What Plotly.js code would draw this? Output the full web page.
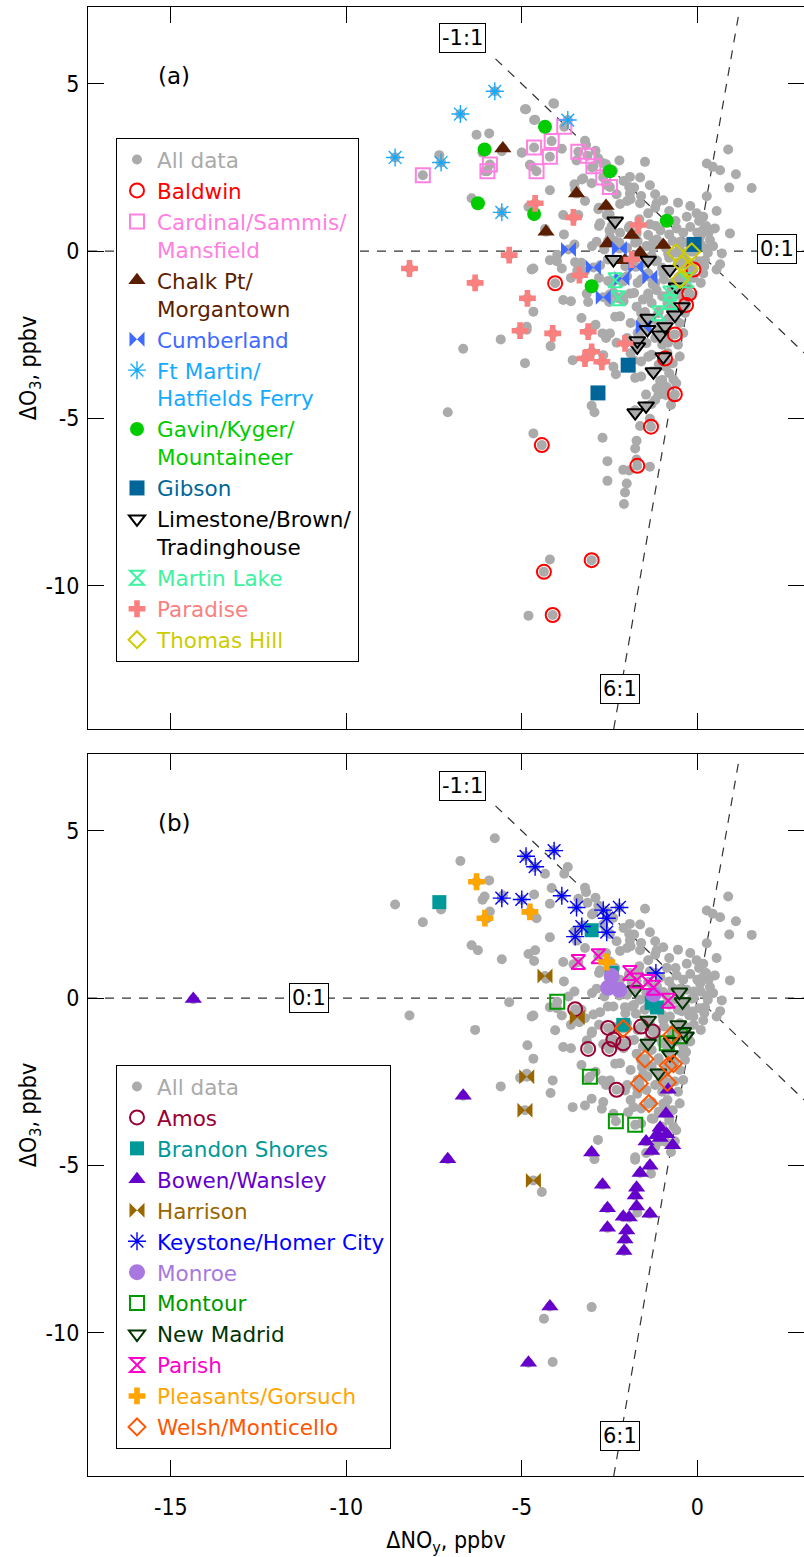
<!DOCTYPE html>
<html>
<head>
<meta charset="utf-8">
<script src="https://cdn.plot.ly/plotly-3.0.1.min.js"></script>
<style>html,body{margin:0;padding:0;background:#fff;}#chart{width:804px;height:1557px;}</style>
</head>
<body>
<div id="chart"></div>
<script>
// ---------- Panel (a) plants ----------
const baldwinX = [-4.05,-4.43,-4.37,-4.12,-3.01,-1.71,-1.32,-0.64,-0.64,-0.92,-0.11,-0.23,-0.32];
const baldwinY = [-0.96,-5.80,-9.59,-10.88,-9.24,-6.42,-5.25,-4.28,-2.49,-3.21,-0.55,-1.27,-1.61];
const cardinalX = [-7.82,-5.91,-5.98,-4.65,-4.58,-3.79,-4.15,-4.20,-3.39,-3.13,-2.96,-2.68,-2.49];
const cardinalY = [2.27,2.59,2.39,3.10,2.39,3.72,3.29,2.82,2.97,2.85,2.54,2.20,1.92];
const chalkX = [-5.54,-3.44,-2.60,-4.31,-1.87,-2.56,-2.06,-1.63,-0.97];
const chalkY = [3.07,1.72,1.35,0.58,0.48,0.23,-0.27,-0.05,0.18];
const cumberlandX = [-3.67,-2.96,-2.68,-2.22,-2.15,-1.75,-1.35,-1.54];
const cumberlandY = [0.05,-0.49,-1.38,0.08,-0.82,-0.47,-0.77,-2.26];
const ftMartinX = [-5.77,-6.75,-8.61,-7.30,-5.57,-3.69];
const ftMartinY = [4.78,4.10,2.80,2.65,1.16,3.92];
const gavinX = [-6.06,-6.25,-4.65,-4.34,-2.49,-0.87,-3.01];
const gavinY = [3.04,1.43,1.11,3.72,2.39,0.91,-1.05];
const gibsonX = [-0.09,-1.97,-2.83];
const gibsonY = [0.20,-3.41,-4.24];
const limestoneX = [-2.34,-2.39,-1.40,-0.78,-0.59,-0.44,-0.64,-1.40,-0.92,-1.42,-1.71,-1.71,-1.06,-0.97,-1.25,-1.46,-1.77];
const limestoneY = [0.90,-0.25,-0.27,-0.55,-1.07,-1.66,-1.91,-2.01,-2.26,-2.34,-2.68,-2.86,-2.51,-3.16,-3.61,-4.63,-4.83];
const martinLakeX = [-2.34,-2.25,-0.78,-0.78,-1.11,-0.30];
const martinLakeY = [-0.87,-1.41,-1.27,-1.52,-1.86,-0.87];
const paradiseX = [-8.20,-6.33,-5.36,-4.84,-4.62,-5.05,-3.53,-1.68,-1.87,-3.36,-4.12,-3.11,-3.01,-3.20,-2.72,-2.06];
const paradiseY = [-0.52,-0.95,-0.12,-1.41,1.43,-2.38,1.01,0.78,-0.25,-0.72,-2.46,-2.41,-3.01,-3.21,-3.31,-2.76];
const thomasX = [-0.61,-0.16,-0.44,-0.23,-0.49];
const thomasY = [-0.05,-0.02,-0.39,-0.52,-0.85];

// ---------- Panel (b) plants ----------
const amosX = [-3.48,-2.54,-2.39,-3.11,-2.51,-2.11,-1.60,-1.27,-2.30];
const amosY = [-0.33,-0.89,-1.24,-1.52,-1.52,-1.35,-0.85,-1.00,-2.74];
const brandonX = [-7.35,-3.01,-2.44,-1.30,-1.15,-2.11];
const brandonY = [2.87,2.03,0.75,-0.14,-0.28,-0.80];
const bowenX = [-14.36,-6.67,-7.11,-3.01,-2.70,-2.56,-2.56,-4.20,-4.81,-1.63,-1.73,-1.77,-1.73,-2.11,-1.94,-2.01,-2.06,-2.09,-1.35,-1.35,-1.46,-1.30,-1.06,-1.06,-0.89,-0.87,-0.70,-0.83,-1.16];
const bowenY = [-0.03,-2.92,-4.82,-4.62,-5.58,-6.28,-6.87,-9.22,-10.90,-5.23,-5.67,-5.90,-6.23,-6.54,-6.56,-6.95,-7.22,-7.56,-6.45,-5.01,-4.29,-4.57,-3.88,-4.18,-3.46,-4.07,-4.40,-2.74,-4.10];
const harrisonX = [-4.34,-3.42,-4.86,-4.91,-4.67];
const harrisonY = [0.66,-0.58,-2.35,-3.35,-5.45];
const keystoneX = [-4.88,-4.08,-4.62,-5.57,-5.00,-3.86,-3.44,-2.68,-2.22,-2.58,-3.29,-3.48,-2.58,-1.18];
const keystoneY = [4.24,4.41,3.93,2.99,2.95,3.06,2.71,2.63,2.71,2.39,2.14,1.84,1.97,0.75];
const monroeX = [-2.44,-2.54,-2.22,-1.25];
const monroeY = [0.66,0.31,0.25,0.11];
const montourX = [-3.99,-3.06,-2.32,-1.77,-0.87,-0.49];
const montourY = [-0.11,-2.35,-3.68,-3.79,-1.35,-1.14];
const newMadridX = [-1.77,-1.40,-1.40,-1.11,-0.78,-0.73,-0.54,-0.40,-0.32,-0.51,-0.42];
const newMadridY = [0.25,-0.66,-1.35,-2.24,-1.69,-1.30,-0.80,-1.00,-1.13,0.18,-0.11];
const parishX = [-3.39,-2.82,-1.92,-1.73,-1.40,-1.25,-0.83];
const parishY = [1.08,1.25,0.75,0.53,0.48,0.31,-0.08];
const pleasantsX = [-6.29,-6.05,-4.77,-2.58];
const pleasantsY = [3.48,2.39,2.58,1.08];
const welshX = [-2.11,-1.49,-1.65,-1.38,-0.73,-0.83,-0.68,-0.85];
const welshY = [-0.91,-1.82,-2.55,-3.15,-1.11,-2.02,-1.96,-2.52];

// ---------- other "All data" points (not at a plant marker) ----------
const otherX = [-4.91,-4.65,-5.93,-5.00,-4.72,-6.43,-4.72,-4.81,-4.86,-6.12,
 -4.10,-3.17,-2.82,-1.49,-1.92,-1.63,-1.35,-1.94,-3.25,-4.20,
 0.88,0.27,0.44,0.65,1.10,0.91,1.55,0.27,0.50,0.93,0.70,0.65,0.22,0.55,0.55,
 -3.82,-2.77,-2.20,-1.92,-1.63,-1.16,-0.97,-1.40,-0.59,-0.30,-0.02,0.17,-0.49,0.08,0.36,0.27,0.17,
 -4.67,-4.20,-3.86,-2.87,-2.49,-2.77,-3.15,-2.34,-1.92,-1.73,-1.40,-1.16,-0.97,-4.67,-3.82,-1.58,
 -5.60,-4.18,-3.55,-2.93,-2.68,-2.39,-1.40,-0.68,-1.11,-0.97,-2.70,-2.49,-1.82,-1.77,
 -3.2,-2.9,-2.6,-2.4,-2.1,-1.8,-1.2,-3.0,-2.6,-2.3,-2.0,-3.5,-3.2,-2.8,-2.5,-3.8,-3.5,-4.0,-3.6,-3.2,-3.0,-3.6,-3.3,-2.9,-2.6,
 -1.9,-1.6,-1.2,-0.8,-0.55,-0.2,0.05,0.25,
 -2.8,-2.5,-2.2,-1.95,-1.65,-1.35,-1.05,-0.8,-0.62,-0.4,-0.2,0.0,0.15,0.32,
 -3.0,-2.65,-2.35,-2.0,-1.7,-1.45,-1.15,-0.9,-0.7,-0.5,-0.3,-0.1,0.1,0.3,0.45,
 -3.3,-2.55,-2.05,-1.8,-1.5,-1.2,-1.0,-0.8,-0.55,-0.35,-0.15,0.05,0.2,
 -2.8,-2.45,-2.0,-1.7,-1.45,-1.2,-0.95,-0.7,-0.5,-0.3,-0.1,0.1,
 -2.5,-2.1,-1.8,-1.55,-1.3,-1.0,-0.85,-0.6,-0.4,-0.2,
 -2.2,-1.9,-1.6,-1.3,-1.1,-0.9,-0.75,-0.5,-0.35,
 -2.0,-1.7,-1.45,-1.2,-1.0,-0.8,-0.55,-0.4,
 -1.9,-1.6,-1.3,-1.1,-0.85,-0.7,-0.5,
 -1.6,-1.3,-1.0,-0.8,-0.6,
 -1.2,-0.9,-0.75];
const otherY = [4.24,3.92,3.52,2.94,2.54,1.58,-0.55,1.32,-2.26,2.94,
 4.42,3.17,2.77,2.67,2.22,2.20,1.97,1.92,2.17,1.82,
 3.04,2.62,2.52,2.42,2.30,1.90,1.89,1.64,0.68,0.53,-0.07,-0.39,-0.27,1.20,-0.55,
 1.08,0.83,1.41,1.72,1.43,1.43,1.52,1.13,0.68,1.03,1.13,1.03,0.28,0.43,0.33,0.08,-0.67,
 -0.52,-0.27,-0.52,0.28,0.43,-0.42,-1.27,-1.96,-1.27,-1.66,-1.27,-1.17,-0.67,-1.81,-1.46,-2.06,
 -2.64,-2.84,-3.26,-4.82,-3.11,-3.46,-3.16,-3.84,-4.30,-4.00,-2.46,-2.46,-3.26,-4.76,
 3.3,3.0,2.6,2.4,2.1,1.9,1.7,2.5,2.0,1.7,1.5,2.0,1.5,1.3,1.1,0.5,0.2,-0.3,-0.8,-0.6,-1.0,-1.5,-2.0,-2.2,-2.6,
 1.55,1.65,1.3,1.2,1.45,1.35,0.9,0.75,
 0.75,0.62,0.55,0.7,0.95,0.8,0.62,0.5,0.9,0.55,0.72,0.55,0.62,0.55,
 0.15,0.05,0.3,0.1,0.3,0.15,0.35,0.1,0.3,0.05,0.25,0.0,0.2,-0.05,0.15,
 -0.35,-0.25,-0.45,-0.2,-0.35,-0.3,-0.5,-0.2,-0.35,-0.25,-0.4,-0.3,-0.45,
 -0.8,-0.95,-0.75,-0.95,-0.7,-0.95,-0.85,-0.95,-0.75,-0.9,-0.8,-0.95,
 -1.3,-1.5,-1.25,-1.45,-1.55,-1.35,-1.55,-1.3,-1.45,-1.3,
 -1.95,-2.15,-1.85,-2.05,-1.8,-2.1,-1.95,-2.15,-1.85,
 -2.6,-2.45,-2.75,-2.6,-2.8,-2.55,-2.8,-2.45,
 -3.05,-3.3,-3.1,-3.4,-3.05,-3.35,-3.15,
 -3.75,-3.6,-3.85,-3.65,-3.95,
 -4.45,-4.3,-4.6];

// tick labels
const xTickVals = [-15, -10, -5, 0];
const xTickText = ['-15', '-10', '-5', '0'];
const yTickVals = [-10, -5, 0, 5];
const yTickText = ['-10', '-5', '0', '5'];

const allX = otherX.concat(baldwinX, cardinalX, chalkX, cumberlandX, ftMartinX, gavinX, gibsonX,
  limestoneX, martinLakeX, paradiseX, thomasX, amosX, brandonX, bowenX, harrisonX, keystoneX,
  monroeX, montourX, newMadridX, parishX, pleasantsX, welshX);
const allY = otherY.concat(baldwinY, cardinalY, chalkY, cumberlandY, ftMartinY, gavinY, gibsonY,
  limestoneY, martinLakeY, paradiseY, thomasY, amosY, brandonY, bowenY, harrisonY, keystoneY,
  monroeY, montourY, newMadridY, parishY, pleasantsY, welshY);

const GRAY = '#ABABAB';
function label(t, c, suffix){ return '<span style="color:' + c + (suffix || '') + '">' + t + '</span>'; }
function series(name, color, symbol, xs, ys, panel, size, open, lw){
  const b = panel === 'b';
  return {
    type: 'scatter', mode: 'markers', x: xs, y: ys,
    xaxis: b ? 'x2' : 'x', yaxis: b ? 'y2' : 'y',
    legend: b ? 'legend2' : 'legend',
    name: label(name, color, b ? ';' : ''), showlegend: true, hoverinfo: 'skip',
    marker: { symbol: symbol, size: size, color: color,
      line: { color: color, width: open ? (lw || 2) : 0 } }
  };
}

const traces = [
  series('All data', '#AAAAAA', 'circle', allX, allY, 'a', 10, false),
  series('Baldwin', '#FF0000', 'circle-open', baldwinX, baldwinY, 'a', 14, true),
  series('Cardinal/Sammis/<br>Mansfield', '#FF80E0', 'square-open', cardinalX, cardinalY, 'a', 14, true),
  series('Chalk Pt/<br>Morgantown', '#5C1E00', 'triangle-up', chalkX, chalkY, 'a', 15, false),
  series('Cumberland', '#3F6AFF', 'bowtie', cumberlandX, cumberlandY, 'a', 15, false),
  series('Ft Martin/<br>Hatfields Ferry', '#14AAFF', 'asterisk-open', ftMartinX, ftMartinY, 'a', 15, true, 1.4),
  series('Gavin/Kyger/<br>Mountaineer', '#00CC00', 'circle', gavinX, gavinY, 'a', 14, false),
  series('Gibson', '#006699', 'square', gibsonX, gibsonY, 'a', 15, false),
  series('Limestone/Brown/<br>Tradinghouse', '#000000', 'triangle-down-open', limestoneX, limestoneY, 'a', 14, true),
  series('Martin Lake', '#3DF2A0', 'hourglass-open', martinLakeX, martinLakeY, 'a', 14, true),
  series('Paradise', '#FA7F7F', 'cross', paradiseX, paradiseY, 'a', 14, false),
  series('Thomas Hill', '#CCCC00', 'diamond-open', thomasX, thomasY, 'a', 13, true),

  series('All data', '#AAAAAA', 'circle', allX, allY, 'b', 10, false),
  series('Amos', '#990033', 'circle-open', amosX, amosY, 'b', 14, true),
  series('Brandon Shores', '#009999', 'square', brandonX, brandonY, 'b', 14, false),
  series('Bowen/Wansley', '#6600CC', 'triangle-up', bowenX, bowenY, 'b', 15, false),
  series('Harrison', '#996600', 'bowtie', harrisonX, harrisonY, 'b', 15, false),
  series('Keystone/Homer City', '#0000FF', 'asterisk-open', keystoneX, keystoneY, 'b', 15, true, 1.4),
  series('Monroe', '#A878E0', 'circle', monroeX, monroeY, 'b', 16, false),
  series('Montour', '#009900', 'square-open', montourX, montourY, 'b', 14, true),
  series('New Madrid', '#003300', 'triangle-down-open', newMadridX, newMadridY, 'b', 14, true),
  series('Parish', '#FF00CC', 'hourglass-open', parishX, parishY, 'b', 14, true),
  series('Pleasants/Gorsuch', '#FFA500', 'cross', pleasantsX, pleasantsY, 'b', 14, false),
  series('Welsh/Monticello', '#FF5500', 'diamond-open', welshX, welshY, 'b', 13, true)
];
traces[0].marker.color = GRAY; traces[12].marker.color = GRAY;

const XR = [-17.36, 3.04], YR = [-14.29, 7.30];
const tickFont = { family: 'DejaVu Sans Condensed, Liberation Sans Narrow, DejaVu Sans, sans-serif', size: 23, color: '#000' };
function xax(show){
  return { range: XR, tickmode: 'array', tickvals: xTickVals, ticktext: xTickText,
    ticks: 'inside', ticklen: 16, tickwidth: 1, tickcolor: '#000',
    showline: true, linecolor: '#000', linewidth: 1, mirror: 'ticks', showgrid: false, zeroline: false,
    showticklabels: show, tickfont: tickFont, ticklabelstandoff: 10, fixedrange: true };
}
function yax(dom){
  return { range: YR, tickmode: 'array', tickvals: yTickVals, ticktext: yTickText,
    ticks: 'inside', ticklen: 16, tickwidth: 1, tickcolor: '#000',
    showline: true, linecolor: '#000', linewidth: 1, mirror: 'ticks', showgrid: false, zeroline: false,
    domain: dom, tickfont: tickFont, ticklabelstandoff: 3,
    title: { text: 'ΔO<sub>3</sub>, ppbv', font: tickFont, standoff: 2 }, fixedrange: true };
}
const xa = xax(false); xa.anchor = 'y';
const xb = xax(true); xb.anchor = 'y2';
xb.title = { text: 'ΔNO<sub>y</sub>, ppbv', font: tickFont, standoff: 14 };
const ya = yax([0.5085, 1]); ya.anchor = 'x';
const yb = yax([0, 0.4915]); yb.anchor = 'x2';

const dashStyle = { color: '#333', width: 1.2, dash: '9px,8px' };
const shapes = [];
[['x','y'],['x2','y2']].forEach(([xr, yr]) => {
  shapes.push({ type: 'line', xref: xr, yref: yr, x0: XR[0], x1: XR[1], y0: 0, y1: 0, line: dashStyle, layer: 'below' });
  shapes.push({ type: 'line', xref: xr, yref: yr, x0: -5.75, y0: 5.75, x1: XR[1], y1: -XR[1], line: dashStyle, layer: 'below' });
  shapes.push({ type: 'line', xref: xr, yref: yr, x0: YR[0] / 6, y0: YR[0], x1: 7.05 / 6, y1: 7.05, line: dashStyle, layer: 'below' });
});

const lblFont = { family: 'DejaVu Sans, sans-serif', size: 21, color: '#000' };
function boxLabel(t, x, y, xr, yr){
  return { text: t, x: x, y: y, xref: xr, yref: yr, showarrow: false, font: lblFont,
    bordercolor: '#000', borderwidth: 1, borderpad: 2, bgcolor: '#fff' };
}
const annotations = [
  { text: '(a)', x: -14.9, y: 5.25, xref: 'x', yref: 'y', showarrow: false, font: { family: 'DejaVu Sans, sans-serif', size: 23, color: '#000' } },
  { text: '(b)', x: -14.9, y: 5.25, xref: 'x2', yref: 'y2', showarrow: false, font: { family: 'DejaVu Sans, sans-serif', size: 23, color: '#000' } },
  boxLabel('-1:1', -6.7, 6.36, 'x', 'y'),
  boxLabel('0:1', 2.26, 0.05, 'x', 'y'),
  boxLabel('6:1', -2.2, -13.1, 'x', 'y'),
  boxLabel('-1:1', -6.7, 6.34, 'x2', 'y2'),
  boxLabel('0:1', -11.05, 0, 'x2', 'y2'),
  boxLabel('6:1', -2.2, -13.1, 'x2', 'y2')
];

const legFont = { family: 'DejaVu Sans, sans-serif', size: 21.5, color: '#000' };
const layout = {
  width: 804, height: 1557,
  margin: { l: 88, r: 0, t: 7, b: 81 },
  paper_bgcolor: '#fff', plot_bgcolor: '#fff',
  xaxis: xa, yaxis: ya, xaxis2: xb, yaxis2: yb,
  shapes: shapes, annotations: annotations,
  legend: { x: 0.0391, y: 0.9108, xanchor: 'left', yanchor: 'top', bgcolor: '#fff', bordercolor: '#000',
    borderwidth: 1, font: legFont, valign: 'top', itemsizing: 'trace', traceorder: 'normal' },
  legend2: { x: 0.0391, y: 0.2798, xanchor: 'left', yanchor: 'top', bgcolor: '#fff', bordercolor: '#000',
    borderwidth: 1, font: legFont, valign: 'top', itemsizing: 'trace', traceorder: 'normal' },
  hovermode: false
};
Plotly.newPlot('chart', traces, layout, { displayModeBar: false, staticPlot: true });
</script>
</body>
</html>
